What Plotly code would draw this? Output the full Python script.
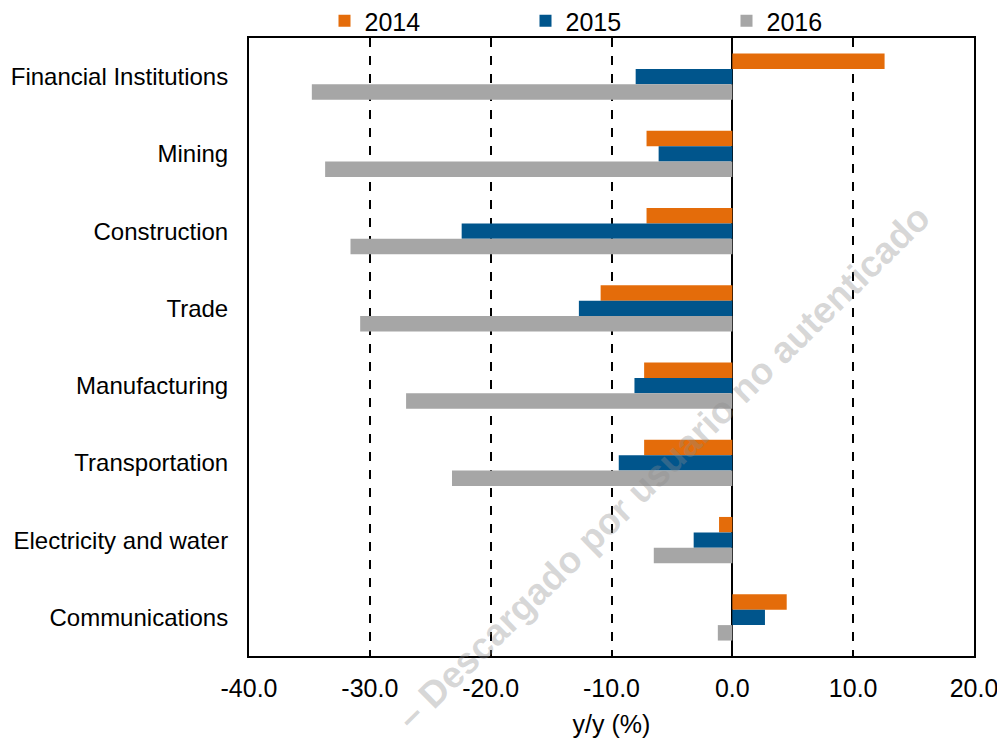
import plotly.graph_objects as go

categories = ["Financial Institutions", "Mining", "Construction", "Trade",
              "Manufacturing", "Transportation", "Electricity and water", "Communications"]
v2014 = [12.6, -7.1, -7.1, -10.9, -7.3, -7.3, -1.1, 4.5]
v2015 = [-8.0, -6.1, -22.4, -12.7, -8.1, -9.4, -3.2, 2.7]
v2016 = [-34.8, -33.7, -31.6, -30.8, -27.0, -23.2, -6.5, -1.2]
series_names = ["2014", "2015", "2016"]
colors = ["#E46C0A", "#00558C", "#A6A6A6"]
x_ticks = [-40, -30, -20, -10, 0, 10, 20]

fig = go.Figure()
for name, vals, col in zip(series_names, [v2014, v2015, v2016], colors):
    fig.add_trace(go.Bar(y=categories, x=vals, name=name, orientation="h",
                         marker=dict(color=col, line=dict(width=0))))

font_family = "Liberation Sans, Arial, sans-serif"

# page body adds ~7px offset; compensate in margins
OFF = 7
L, R, T, B = 248 - OFF, 32 + OFF, 37 - OFF, 85 + OFF
W, H = 1005, 740
pw, ph = W - L - R, H - T - B

fig.update_layout(
    width=W, height=H,
    paper_bgcolor="white", plot_bgcolor="white",
    margin=dict(l=L, r=R, t=T, b=B, autoexpand=False),
    barmode="group", bargap=0.4, bargroupgap=0,
    font=dict(family=font_family, size=24, color="black"),
    legend=dict(orientation="h", x=(625 - OFF - L) / pw, xanchor="center",
                y=1.0 - 6 / ph, yanchor="bottom",
                entrywidth=156, font=dict(size=25), traceorder="normal",
                itemwidth=30, bgcolor="rgba(0,0,0,0)"),
    xaxis=dict(range=[-40, 20], tickvals=x_ticks,
               ticktext=[f"{v:.1f}" for v in x_ticks],
               showgrid=True, gridcolor="black", griddash="dash", gridwidth=1.5,
               zeroline=True, zerolinecolor="black", zerolinewidth=2,
               showline=True, linecolor="black", linewidth=2, mirror=True,
               ticks="", ticklen=0, ticklabelstandoff=9,
               title=dict(text="y/y (%)", font=dict(size=25), standoff=14),
               tickfont=dict(size=25)),
    yaxis=dict(autorange="reversed", showgrid=False, showline=True, linecolor="black",
               linewidth=2, mirror=True, ticks="", ticklabelstandoff=14,
               tickfont=dict(size=24)),
    annotations=[dict(text="<b>– Descargado por usuario no autenticado</b>",
                      x=(662 - OFF - L) / pw, y=(H - B - (466 - OFF)) / ph,
                      xref="paper", yref="paper", showarrow=False,
                      xanchor="center", yanchor="middle",
                      textangle=-44.5,
                      font=dict(size=37, color="rgba(140,140,140,0.35)", family=font_family))],
)

fig.write_html("out.html")
